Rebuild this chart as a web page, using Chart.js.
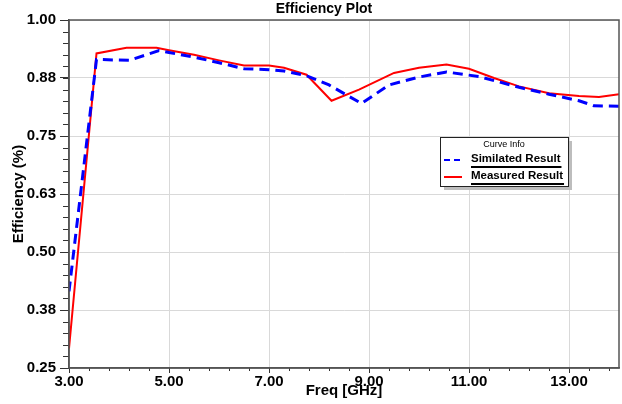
<!DOCTYPE html>
<html>
<head>
    <title>Efficiency Plot</title>
    <script src="https://cdn.jsdelivr.net/npm/chart.js"></script>
    <style>
        body { margin: 0; background: #fff; }
        #wrap { width: 622px; height: 404px; }
    </style>
</head>
<body>
    <div id="wrap"><canvas id="effChart" width="622" height="404"></canvas></div>

    <script>
        // values
        const freqSim = [3.0, 3.55, 4.2, 4.8, 5.0, 5.5, 6.0, 6.5, 7.0, 7.3, 7.75, 8.2, 8.85, 9.4, 10.0, 10.55, 11.2, 12.0, 12.6, 13.2, 13.5, 14.0];
        const effSim  = [0.415, 0.915, 0.913, 0.934, 0.930, 0.920, 0.908, 0.895, 0.893, 0.890, 0.880, 0.860, 0.820, 0.860, 0.877, 0.888, 0.878, 0.855, 0.840, 0.826, 0.815, 0.814];
        const freqMeas = [3.0, 3.55, 4.15, 4.75, 5.0, 5.5, 6.0, 6.5, 7.0, 7.3, 7.75, 8.25, 8.8, 9.5, 10.0, 10.55, 11.0, 11.5, 12.0, 12.6, 13.2, 13.6, 14.0];
        const effMeas  = [0.292, 0.928, 0.940, 0.940, 0.935, 0.925, 0.913, 0.902, 0.902, 0.897, 0.882, 0.826, 0.850, 0.886, 0.897, 0.904, 0.895, 0.875, 0.857, 0.842, 0.836, 0.834, 0.840];
        const xTicks = [3, 5, 7, 9, 11, 13];
        const yTicks = [0.25, 0.375, 0.5, 0.625, 0.75, 0.875, 1.0];
        const seriesNames = ['Similated Result', 'Measured Result'];

        const FONT = 'Liberation Sans, Arial, sans-serif';

        // minor ticks, frame, title and the "Curve Info" box
        const decor = {
            id: 'decor',
            afterDraw(chart) {
                const ctx = chart.ctx;
                const a = chart.chartArea;
                const xs = chart.scales.x, ys = chart.scales.y;
                ctx.save();
                ctx.strokeStyle = '#333';
                ctx.lineWidth = 1;
                ctx.beginPath();
                for (let v = 3; v <= 14.001; v += 0.4) {
                    const px = Math.round(xs.getPixelForValue(v)) + 0.5;
                    ctx.moveTo(px, a.bottom); ctx.lineTo(px, a.bottom + 3);
                }
                for (let v = 0.25; v <= 1.0001; v += 0.025) {
                    const py = Math.round(ys.getPixelForValue(v)) + 0.5;
                    ctx.moveTo(a.left, py); ctx.lineTo(a.left - 6, py);
                }
                ctx.stroke();

                ctx.strokeStyle = '#555';
                ctx.lineWidth = 1.5;
                ctx.strokeRect(a.left, a.top, a.right - a.left, a.bottom - a.top);

                ctx.fillStyle = '#000';
                ctx.font = 'bold 14px ' + FONT;
                ctx.textAlign = 'center';
                ctx.textBaseline = 'middle';
                ctx.fillText('Efficiency Plot', 324, 9);

                // legend box
                const bx = 440, by = 137, bw = 128, bh = 49;
                ctx.fillStyle = '#bdbdbd';
                ctx.fillRect(bx + 4, by + 4, bw, bh);
                ctx.fillStyle = '#fff';
                ctx.fillRect(bx, by, bw, bh);
                ctx.strokeStyle = '#222';
                ctx.lineWidth = 1;
                ctx.strokeRect(bx + 0.5, by + 0.5, bw, bh);
                ctx.fillStyle = '#000';
                ctx.font = '9px ' + FONT;
                ctx.fillText('Curve Info', bx + bw / 2, by + 8);

                chart.data.datasets.forEach((ds, i) => {
                    const ry = by + 23 + i * 17;
                    ctx.strokeStyle = ds.borderColor;
                    ctx.lineWidth = 2;
                    ctx.setLineDash(ds.borderDash ? [6, 4] : []);
                    ctx.beginPath();
                    ctx.moveTo(bx + 4, ry); ctx.lineTo(bx + 22, ry);
                    ctx.stroke();
                    ctx.setLineDash([]);
                    ctx.fillStyle = '#000';
                    ctx.font = 'bold 11.5px ' + FONT;
                    ctx.textAlign = 'left';
                    ctx.fillText(ds.label, bx + 31, ry - 1);
                    const w = ctx.measureText(ds.label).width;
                    ctx.fillRect(bx + 31, ry + 6, w + 1, 2);
                });
                ctx.restore();
            }
        };

        const ctx = document.getElementById('effChart').getContext('2d');
        new Chart(ctx, {
            type: 'line',
            data: {
                datasets: [{
                    label: seriesNames[0],
                    data: freqSim.map((f, i) => ({ x: f, y: effSim[i] })),
                    borderColor: '#0000ff',
                    borderWidth: 3,
                    borderDash: [10, 6],
                    pointRadius: 0,
                    tension: 0
                }, {
                    label: seriesNames[1],
                    data: freqMeas.map((f, i) => ({ x: f, y: effMeas[i] })),
                    borderColor: '#ff0000',
                    borderWidth: 2,
                    pointRadius: 0,
                    tension: 0
                }]
            },
            options: {
                responsive: false,
                animation: false,
                layout: { padding: { top: 20, right: 3, left: 0, bottom: 0 } },
                plugins: {
                    legend: { display: false },
                    title: { display: false },
                    tooltip: { enabled: false }
                },
                scales: {
                    x: {
                        type: 'linear',
                        min: 3,
                        max: 14,
                        afterBuildTicks: s => { s.ticks = xTicks.map(v => ({ value: v })); },
                        afterFit: s => { s.height = 36; },
                        grid: { color: '#d9d9d9', tickColor: '#333', tickLength: 5 },
                        border: { color: '#555', width: 1.5 },
                        ticks: {
                            padding: 0,
                            maxRotation: 0,
                            color: '#000',
                            font: { family: FONT, size: 15, weight: 'bold' },
                            callback: v => v.toFixed(2)
                        },
                        title: {
                            display: true,
                            text: 'Freq [GHz]',
                            color: '#000',
                            padding: { top: 0, bottom: 4 },
                            font: { family: FONT, size: 15, weight: 'bold' }
                        }
                    },
                    y: {
                        min: 0.25,
                        max: 1.0,
                        afterBuildTicks: s => { s.ticks = yTicks.map(v => ({ value: v })); },
                        afterFit: s => { s.width = 69; },
                        grid: { color: '#d9d9d9', tickColor: '#333', tickLength: 9 },
                        border: { color: '#555', width: 1.5 },
                        ticks: {
                            padding: 4,
                            color: '#000',
                            font: { family: FONT, size: 15, weight: 'bold' },
                            callback: v => v.toFixed(2)
                        },
                        title: {
                            display: true,
                            text: 'Efficiency (%)',
                            color: '#000',
                            padding: { top: 10, bottom: 0 },
                            font: { family: FONT, size: 15, weight: 'bold' }
                        }
                    }
                }
            },
            plugins: [decor]
        });
    </script>
</body>
</html>
